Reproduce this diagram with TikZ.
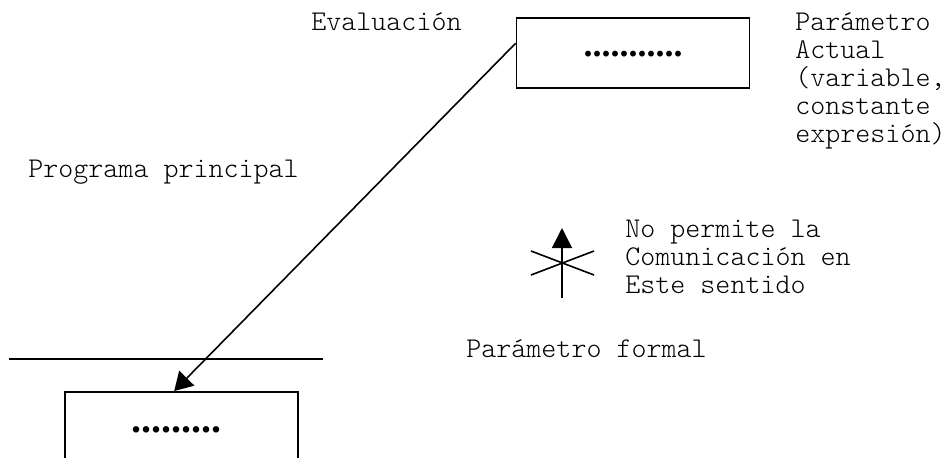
\documentclass[tikz,border=0pt]{standalone}
\usepackage{fontspec}
\setmonofont{Latin Modern Mono Light}
\newfontfamily\dotfont{Liberation Serif}
\usetikzlibrary{arrows.meta,calc}
\begin{document}
\begin{tikzpicture}[x=0.5pt,y=-0.5pt,
  txt/.style={font=\ttfamily\fontsize{14.3}{14}\selectfont, inner sep=0pt, align=left, anchor=base west},
  box/.style={draw, line width=0.8pt, inner sep=0pt, minimum width=116.5pt},
  dotrow/.style={inner sep=0pt, anchor=base},
  thin/.style={line width=0.8pt},
  link/.style={line width=0.8pt, -{Triangle[length=9pt,width=10.5pt]}}]
\useasboundingbox (0,0) rectangle (950,457);
\clip (0,0) rectangle (950,457);

% parameter boxes
\node[box, minimum height=35pt] (actual) at (633,53) {};
\node[box, minimum height=100pt, anchor=north] (formal) at (181.5,391) {};
\node[dotrow, font=\dotfont\bfseries\fontsize{18}{18}\selectfont] (dtop) at (633,56) {...........};
\node[dotrow, font=\dotfont\bfseries\fontsize{20}{20}\selectfont] (dbot) at (177,432) {.........};

% labels (multi-line ones are placed by the baseline of their last line)
\node[txt] (eval) at (311,30) {Evaluación};
\node[txt] (pact) at (795,142) {Parámetro\\Actual\\(variable,\\constante\\expresión)};
\node[txt] (prog) at (28,177) {Programa principal};
\node[txt] (nope) at (625,293) {No permite la\\Comunicación en\\Este sentido};
\node[txt] (pform) at (466,357) {Parámetro formal};

% separator between main program and procedure
\coordinate (hl) at (9,359);
\coordinate (hr) at (323,359);
\draw[thin] (hl) -- (hr);

% value passed from actual to formal parameter
\draw[link] ($(actual.north west)+(0,26)$) -- ($(formal.north west)+(110,0)$);

% crossed-out arrow: no communication back
\coordinate (sb) at (562,298);
\coordinate (st) at (562,228);
\coordinate (c1) at (531,251);
\coordinate (c2) at (594,275);
\coordinate (c3) at (531,275);
\coordinate (c4) at (594,251);
\draw[thin, -{Triangle[length=10pt,width=10pt]}] (sb) -- (st);
\draw[thin] (c1) -- (c2);
\draw[thin] (c3) -- (c4);
\end{tikzpicture}
\end{document}
